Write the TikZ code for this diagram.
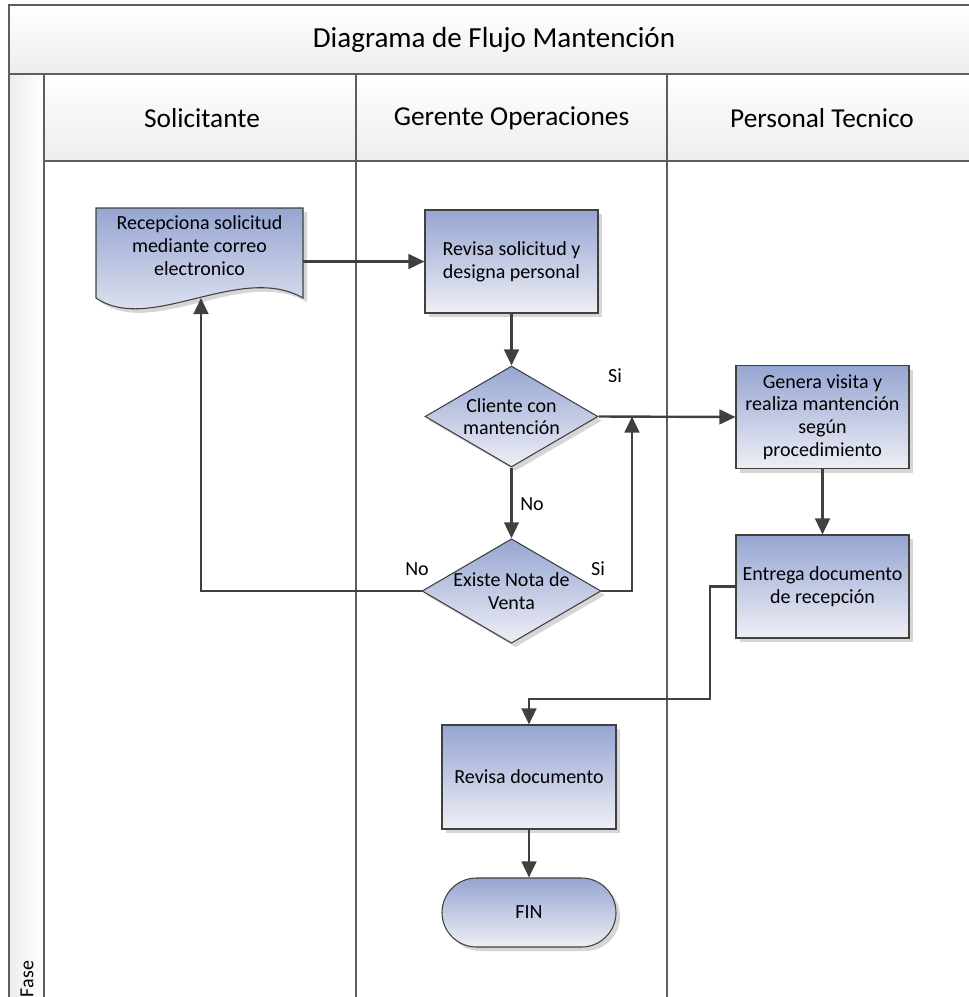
\documentclass[tikz,border=0pt]{standalone}
\usepackage{fontspec}
\setmainfont{Carlito}
\usetikzlibrary{shapes.geometric,arrows.meta,shadows,positioning}
\definecolor{linea}{HTML}{404040}
\definecolor{marco}{HTML}{5E5E5E}
\definecolor{azultop}{RGB}{150,165,210}
\definecolor{azulbot}{RGB}{238,239,245}
\definecolor{sombra}{HTML}{D6D6D6}
\definecolor{grisclaro}{HTML}{EDEDED}

\begin{document}
\begin{tikzpicture}[x=0.75pt,y=-0.75pt,
    font=\fontsize{15}{17}\selectfont,
    proc/.style={draw=linea,line width=0.8pt,top color=azultop,bottom color=azulbot,
      drop shadow={shadow xshift=3pt,shadow yshift=-3pt,fill=sombra,opacity=1},
      minimum width=129.75pt,minimum height=77.25pt,align=center,inner sep=2pt},
    decis/.style={proc,shape=diamond,aspect=1.713,inner sep=0pt,minimum height=75.75pt},
    finbox/.style={proc,rounded corners=25.9pt,minimum height=51.75pt},
    flecha/.style={draw=linea,line width=1.8pt,-{Triangle[length=12pt,width=11pt]}},
    enc/.style={font=\fontsize{20.5}{24}\selectfont}]
  \useasboundingbox (0,0) rectangle (969,997);

  % swimlanes
  \fill[top color=white,bottom color=grisclaro] (9,5) rectangle (969,74);
  \fill[top color=white,bottom color=grisclaro] (44,74) rectangle (969,161);
  \fill[left color=grisclaro,right color=white] (9,74) rectangle (44,997);
  \draw[marco,line width=1.5pt] (969,5) -- (9,5) -- (9,997);
  \draw[marco,line width=1.5pt] (9,74) -- (969,74);
  \draw[marco,line width=1.5pt] (44,161) -- (969,161);
  \draw[marco,line width=1.5pt] (44,74) -- (44,997);
  \draw[marco,line width=1.5pt] (356,74) -- (356,997);
  \draw[marco,line width=1.5pt] (667,74) -- (667,997);

  \node[enc,font=\fontsize{21.8}{26}\selectfont] (titulo) at (494,40) {Diagrama de Flujo Mantención};
  \node[enc] (sol) at (202,118) {Solicitante};
  \node[enc] (ger) at (511.5,118) {Gerente Operaciones};
  \node[enc] (tec) at (822,118) {Personal Tecnico};
  \node[rotate=90] (fase) at (27,979) {Fase};

  % documento
  \fill[sombra] (100,212) -- (307,212) -- (307,302) .. controls (244,266) and (154,339) .. (100,302) -- cycle;
  \draw[linea,line width=0.8pt,top color=azultop,bottom color=azulbot]
    (96,208) -- (303,208) -- (303,298) .. controls (240,262) and (150,335) .. (96,298) -- cycle;
  \node[align=center,minimum width=155.25pt] (recep) at (199.5,245.5)
    {Recepciona solicitud\\mediante correo\\electronico};
  \coordinate (docbase) at (201,298);

  \node[proc] (revisa) at (511.5,261.5) {Revisa solicitud y\\designa personal};
  \node[decis] (cliente) at (511.5,416.5) {Cliente con\\mantención};
  \node[decis] (existe) at (511.5,591) {Existe Nota de\\Venta};
  \node[proc] (genera) at (822.5,417) {Genera visita y\\realiza mantención\\según\\procedimiento};
  \node[proc] (entrega) at (822.5,586.5) {Entrega documento\\de recepción};
  \node[proc,minimum width=130.5pt,minimum height=78pt] (revdoc) at (529,777) {Revisa documento};
  \node[finbox,minimum width=130.5pt] (fin) at (529,912.5) {FIN};

  \coordinate (unionsi) at (632,416.5);
  \coordinate (quiebre) at (710,699);

  \draw[flecha] (recep.east |- revisa.west) -- (revisa.west);
  \draw[flecha] (revisa.south) -- (cliente.north);
  \draw[flecha] (cliente.east) -- (genera.west);
  \draw[flecha] (cliente.south) -- (existe.north);
  \draw[flecha] (existe.east) -| (unionsi);
  \draw[flecha] (existe.west) -| (docbase);
  \draw[flecha] (genera.south) -- (entrega.north);
  \draw[flecha] (entrega.west) -| (quiebre) -| (revdoc.north);
  \draw[flecha] (revdoc.south) -- (fin.north);

  \node (si1) at (615,376) {Si};
  \node (no1) at (532,504) {No};
  \node (no2) at (417,569) {No};
  \node (si2) at (598,569) {Si};
\end{tikzpicture}
\end{document}
